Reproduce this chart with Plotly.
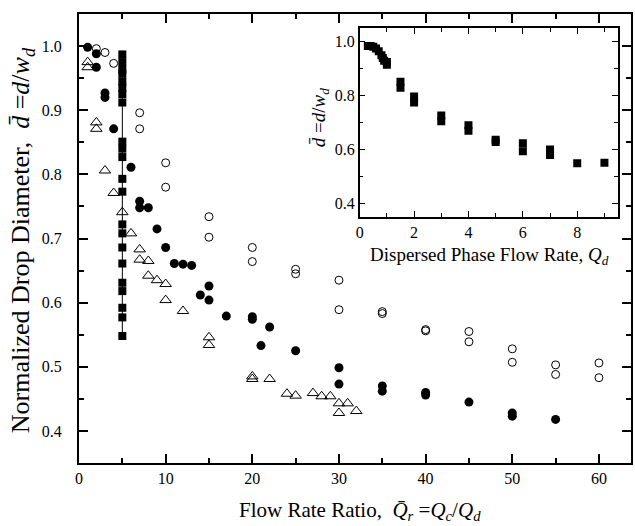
import plotly.graph_objects as go

# ---- main panel data: normalized drop diameter vs flow rate ratio ----
fc_x = [1, 2, 2, 3, 3, 4, 6, 7, 7, 8, 9, 10, 11, 12, 13, 14, 15, 15, 17, 20, 20,
        21, 22, 25, 30, 30, 35, 35, 40, 40, 45, 50, 50, 55]
fc_y = [0.998, 0.988, 0.967, 0.927, 0.920, 0.871, 0.811, 0.758, 0.748, 0.748, 0.715,
        0.686, 0.661, 0.660, 0.658, 0.612, 0.626, 0.604, 0.579, 0.578, 0.574,
        0.533, 0.562, 0.525, 0.4985, 0.473, 0.470, 0.462, 0.460, 0.456, 0.445,
        0.428, 0.423, 0.418]

oc_x = [2, 3, 4, 7, 7, 10, 10, 15, 15, 20, 20, 25, 25, 30, 30, 35, 35, 40, 40,
        45, 45, 50, 50, 55, 55, 60, 60]
oc_y = [0.996, 0.990, 0.973, 0.896, 0.871, 0.818, 0.780, 0.734, 0.702, 0.686, 0.664,
        0.652, 0.645, 0.635, 0.589, 0.586, 0.583, 0.558, 0.556, 0.555, 0.539,
        0.528, 0.507, 0.503, 0.488, 0.506, 0.483]

tri_x = [1, 1, 2, 2, 3, 4, 5, 6, 7, 7, 8, 8, 9, 10, 10, 12, 15, 15, 20, 20, 22,
         24, 25, 27, 28, 29, 30, 30, 31, 32]
tri_y = [0.975, 0.967, 0.881, 0.871, 0.806, 0.771, 0.741, 0.708, 0.683, 0.667,
         0.665, 0.642, 0.635, 0.629, 0.604, 0.587, 0.546, 0.534, 0.485, 0.481,
         0.481, 0.458, 0.455, 0.459, 0.454, 0.454, 0.443, 0.428, 0.443, 0.431]

# squares: fixed ratio Qr = 5
sq_x = [5] * 22
sq_y = [0.987, 0.975, 0.963, 0.957, 0.945, 0.935, 0.925, 0.912, 0.851, 0.840,
        0.827, 0.793, 0.773, 0.722, 0.708, 0.686, 0.661, 0.631, 0.618, 0.592,
        0.577, 0.548]

# ---- inset data: drop diameter vs dispersed phase flow rate ----
ins_x = [0.3, 0.4, 0.5, 0.6, 0.7, 0.8, 0.85, 0.9, 1.0, 1.0, 1.5, 1.5, 2, 2, 3, 3,
         4, 4, 5, 5, 6, 6, 7, 7, 8, 9]
ins_y = [0.985, 0.985, 0.982, 0.975, 0.965, 0.950, 0.940, 0.930, 0.925, 0.915,
         0.852, 0.830, 0.797, 0.775, 0.727, 0.705, 0.690, 0.670, 0.637, 0.628,
         0.624, 0.594, 0.600, 0.580, 0.549, 0.551]

main_xticks = [0, 10, 20, 30, 40, 50, 60]
main_yticks = [0.4, 0.5, 0.6, 0.7, 0.8, 0.9, 1.0]
ins_xticks = [0, 2, 4, 6, 8]
ins_yticks = [0.4, 0.6, 0.8, 1.0]

FONT = "Liberation Serif"
BLACK = "black"
NBSP = "\u00a0"

fig = go.Figure()

fig.add_trace(go.Scatter(
    x=sq_x, y=sq_y, mode="lines+markers",
    line=dict(color=BLACK, width=1),
    marker=dict(symbol="square", size=8, color=BLACK),
    showlegend=False))
fig.add_trace(go.Scatter(
    x=oc_x, y=oc_y, mode="markers",
    marker=dict(symbol="circle-open", size=8, color=BLACK, line=dict(width=1)),
    showlegend=False))
fig.add_trace(go.Scatter(
    x=tri_x, y=tri_y, mode="markers",
    marker=dict(symbol="triangle-up-open", size=10, color=BLACK, line=dict(width=1)),
    showlegend=False))
fig.add_trace(go.Scatter(
    x=fc_x, y=fc_y, mode="markers",
    marker=dict(symbol="circle", size=9, color=BLACK),
    showlegend=False))

fig.add_trace(go.Scatter(
    x=ins_x, y=ins_y, mode="markers", xaxis="x2", yaxis="y2",
    marker=dict(symbol="square", size=8, color=BLACK),
    showlegend=False))

axis_common = dict(
    showgrid=False, zeroline=False, showline=True, linecolor=BLACK,
    mirror="allticks", ticks="inside", tickcolor=BLACK,
    tickfont=dict(family=FONT, size=16, color=BLACK),
)

fig.update_layout(
    width=635, height=526,
    margin=dict(l=79, r=2, t=14, b=63),
    paper_bgcolor="white", plot_bgcolor="white",
    font=dict(family=FONT, color=BLACK),
    xaxis=dict(
        **axis_common, range=[0, 63.7], linewidth=2,
        tickvals=main_xticks, ticktext=[str(v) for v in main_xticks],
        ticklen=9, tickwidth=1.5,
        minor=dict(ticks="inside", dtick=5, tick0=0, ticklen=5, tickwidth=1.5, tickcolor=BLACK),
    ),
    yaxis=dict(
        **axis_common, range=[0.35, 1.05], linewidth=2,
        tickvals=main_yticks, ticktext=[f"{v:.1f}" + NBSP * 3 for v in main_yticks],
        ticklen=9, tickwidth=1.5,
        minor=dict(ticks="inside", dtick=0.05, tick0=0, ticklen=5, tickwidth=1.5, tickcolor=BLACK),
    ),
    xaxis2=dict(
        **axis_common, domain=[0.5085, 0.9765], anchor="y2", range=[0, 9.5],
        linewidth=1.5,
        tickvals=ins_xticks, ticktext=[str(v) for v in ins_xticks],
        ticklen=6, tickwidth=1,
        minor=dict(ticks="inside", dtick=1, tick0=0, ticklen=4, tickwidth=1, tickcolor=BLACK),
    ),
    yaxis2=dict(
        **axis_common, domain=[0.548, 0.968], anchor="x2", range=[0.35, 1.05],
        linewidth=1.5,
        tickvals=ins_yticks, ticktext=[f"{v:.1f}" for v in ins_yticks],
        ticklen=6, tickwidth=1,
        minor=dict(ticks="inside", dtick=0.1, tick0=0, ticklen=4, tickwidth=1, tickcolor=BLACK),
    ),
)

Q = "<i>Q</i>"
# positions in pixels from the top-left corner of the page
annotations = [
    dict(text="Flow Rate Ratio,  " + "<i>Q\u0304</i><sub><i>r</i></sub>" + " =" + Q + "<sub><i>c</i></sub>/" + Q + "<sub><i>d</i></sub>",
         px=361, py=511, angle=0, size=21),
    dict(text="Normalized Drop Diameter,  <i>d\u0304</i> =<i>d</i>/<i>w</i><sub><i>d</i></sub>",
         px=22, py=240, angle=-90, size=26),
    dict(text="Dispersed Phase Flow Rate, " + Q + "<sub><i>d</i></sub>",
         px=491, py=256, angle=0, size=19),
    dict(text="<i>d\u0304</i> =<i>d</i>/<i>w</i><sub><i>d</i></sub>",
         px=321, py=118, angle=-90, size=19),
]
plot_w = 635 - 79 - 2
plot_h = 526 - 14 - 63
fig.update_layout(annotations=[
    dict(text=a["text"], textangle=a["angle"], showarrow=False,
         xref="paper", yref="paper",
         x=(a["px"] - 79) / plot_w, y=(526 - a["py"] - 63) / plot_h,
         xanchor="center", yanchor="middle",
         font=dict(family=FONT, size=a["size"], color=BLACK))
    for a in annotations
])

fig.write_html("out.html")
